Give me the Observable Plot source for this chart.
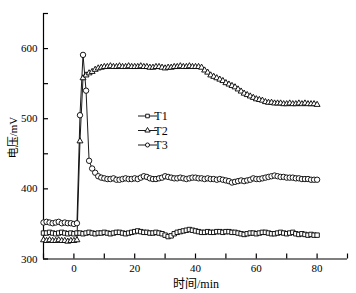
<!DOCTYPE html>
<html><head><meta charset="utf-8">
<script src="https://cdn.jsdelivr.net/npm/d3@7"></script>
<script src="https://cdn.jsdelivr.net/npm/@observablehq/plot@0.6"></script>
<style>body{margin:0;background:#fff}</style>
</head><body><div id="chart"></div>
<script>
// time in minutes (one reading per minute)
const time = d3.range(-10, 81);
const seriesNames = ["T1", "T2", "T3"];
const t1 = [337,337,338,337,336,337,338,337,336,337,336,337,
  337,336,337,338,337,336,337,337,338,337,336,337,338,338,337,336,337,338,339,
  340,339,338,338,337,337,338,337,336,334,
  332,333,336,338,339,340,341,342,341,340,
  339,338,338,339,338,338,339,339,338,339,
  339,338,338,337,336,335,336,337,337,336,
  337,338,338,337,336,336,337,338,337,336,
  337,338,336,335,336,335,334,335,334,334];
const t2 = [327,326,327,326,326,327,326,326,325,326,326,327,
  468,558,562,565,567,570,572,573,
  574,574,575,574,574,575,574,574,575,574,574,
  574,575,574,574,573,573,574,574,573,572,
  573,573,574,574,575,574,574,575,574,574,
  574,573,569,566,562,560,558,556,554,551,
  549,547,545,542,539,536,534,532,530,528,
  527,526,524,523,523,522,522,522,521,521,
  522,521,521,522,521,522,521,521,521,520];
const t3 = [352,353,352,351,352,353,351,352,351,351,350,351,
  505,591,540,440,429,423,418,416,415,
  414,414,415,413,413,414,415,414,414,415,
  414,416,418,417,415,414,414,415,416,418,
  417,416,415,415,416,415,414,415,416,416,
  415,415,414,415,414,414,413,414,413,412,
  411,409,410,411,412,411,412,413,415,414,
  414,415,416,417,418,419,418,417,417,416,
  416,416,415,415,414,414,414,413,413,413];
const xTicks = [-10,0,10,20,30,40,50,60,70,80,90];
const xLabels = [0,20,40,60,80];
const yTicks = [300,350,400,450,500,550,600,650];
const yLabels = [300,400,500,600];
const xTitle = "时间/min";
const yTitle = "电压/mV";

const mk = vals => vals.map((v, i) => ({t: time[i], v}));
const d1 = mk(t1), d2 = mk(t2), d3s = mk(t3);

const font = "'Liberation Serif','Noto Sans CJK SC',serif";
const plot = Plot.plot({
  width: 356, height: 293,
  marginLeft: 43, marginRight: 9, marginTop: 13, marginBottom: 34.5,
  style: {fontFamily: font, fontSize: "11px", color: "#000", background: "#fff"},
  x: {domain: [-10, 90]},
  y: {domain: [300, 650]},
  marks: [
    Plot.ruleY([300], {stroke: "#000", strokeWidth: 1.2}),
    Plot.ruleX([-10], {stroke: "#000", strokeWidth: 1.2}),
    Plot.axisX(xTicks, {tickSize: -5, tickPadding: 10, strokeWidth: 1.2,
      tickFormat: d => xLabels.includes(d) ? String(d) : "", label: null, fontSize: 11}),
    Plot.axisY(yTicks, {tickSize: -5, tickPadding: 11, strokeWidth: 1.2,
      tickFormat: d => yLabels.includes(d) ? String(d) : "", label: null, fontSize: 11}),
    Plot.line(d1, {x: "t", y: "v", stroke: "#000", strokeWidth: 0.9}),
    Plot.line(d2, {x: "t", y: "v", stroke: "#000", strokeWidth: 0.9}),
    Plot.line(d3s, {x: "t", y: "v", stroke: "#000", strokeWidth: 0.9}),
    Plot.dot(d1, {x: "t", y: "v", symbol: "square", r: 2.5, stroke: "#000", fill: "#fff", strokeWidth: 0.9}),
    Plot.dot(d2, {x: "t", y: "v", symbol: "triangle", r: 2.2, stroke: "#000", fill: "#fff", strokeWidth: 0.9}),
    Plot.dot(d3s, {x: "t", y: "v", symbol: "circle", r: 2.7, stroke: "#000", fill: "#fff", strokeWidth: 0.9})
  ]
});
document.getElementById("chart").appendChild(plot);

const svg = d3.select(plot);
// axis titles
svg.append("text").attr("x", 196).attr("y", 288).attr("text-anchor", "middle")
  .attr("font-size", 12).attr("font-family", font).attr("fill", "#000").text(xTitle);
svg.append("text").attr("transform", "translate(13,137.5) rotate(-90)")
  .attr("text-anchor", "middle").attr("dy", "0.35em")
  .attr("font-size", 11).attr("font-family", font).attr("fill", "#000").text(yTitle);

// legend inside the plot area
const legendSymbols = [d3.symbolSquare, d3.symbolTriangle, d3.symbolCircle];
const legendSizes = [13, 12, 13];
const legendY = [116, 130.5, 145];
const lg = svg.append("g").attr("class", "legend");
seriesNames.forEach((name, i) => {
  const y = legendY[i];
  lg.append("line").attr("x1", 138).attr("x2", 157).attr("y1", y).attr("y2", y)
    .attr("stroke", "#000").attr("stroke-width", 0.9);
  lg.append("path").attr("d", d3.symbol(legendSymbols[i], legendSizes[i])())
    .attr("transform", `translate(147.5,${y})`)
    .attr("fill", "#fff").attr("stroke", "#000").attr("stroke-width", 0.9);
  lg.append("text").attr("x", 161).attr("y", y).attr("dy", "0.35em")
    .attr("font-size", 12).attr("font-family", font).attr("fill", "#000").text(name);
});
</script>
</body></html>
